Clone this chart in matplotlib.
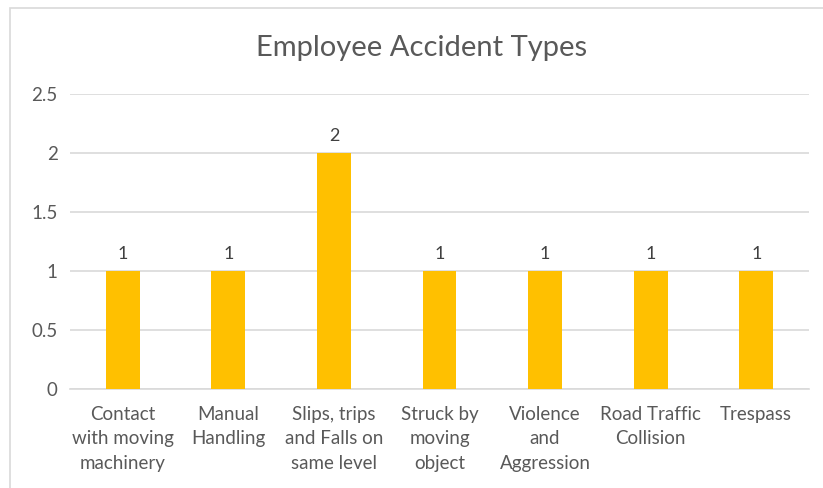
import matplotlib.pyplot as plt
from matplotlib.patches import Rectangle

# Data
categories = [
    "Contact\nwith moving\nmachinery",
    "Manual\nHandling",
    "Slips, trips\nand Falls on\nsame level",
    "Struck by\nmoving\nobject",
    "Violence\nand\nAggression",
    "Road Traffic\nCollision",
    "Trespass",
]
counts = [1, 1, 2, 1, 1, 1, 1]
y_ticks = [0, 0.5, 1, 1.5, 2, 2.5]
y_tick_labels = ["0", "0.5", "1", "1.5", "2", "2.5"]


def main():
    plt.rcParams['font.family'] = ['Lato', 'DejaVu Sans']
    text_color = '#595959'
    grid_color = '#D9D9D9'

    fig = plt.figure(figsize=(8.23, 4.88), dpi=100)
    ax = fig.add_axes([70 / 823, 1 - 389 / 488, 739 / 823, 295 / 488])

    # chart frame (only left and top edges visible in the crop)
    fig.patches.append(Rectangle((10 / 823, -0.1), 1.2, 1 - 8 / 488 + 0.1,
                                 transform=fig.transFigure, fill=False,
                                 edgecolor=grid_color, linewidth=1.2))

    x = range(len(categories))
    bars = ax.bar(x, counts, width=0.32, color='#FFC000', zorder=3)
    for b, v in zip(bars, counts):
        ax.text(b.get_x() + b.get_width() / 2, v + 0.08, str(v),
                ha='center', va='bottom', fontsize=13, color='#404040')

    ax.set_xlim(-0.5, len(categories) - 0.5)
    ax.set_ylim(0, 2.5)
    ax.set_yticks(y_ticks)
    ax.set_yticklabels(y_tick_labels)
    ax.set_xticks(list(x))
    ax.set_xticklabels(categories, linespacing=1.55)
    ax.tick_params(axis='both', length=0, labelsize=13.5, labelcolor=text_color)
    ax.tick_params(axis='y', pad=9)
    ax.tick_params(axis='x', pad=12)
    ax.yaxis.grid(True, color=grid_color, linewidth=1.2, zorder=0)
    for side in ['top', 'right', 'left']:
        ax.spines[side].set_visible(False)
    ax.spines['bottom'].set_color(grid_color)
    ax.spines['bottom'].set_linewidth(1.2)

    fig.text(422 / 823, 1 - 48 / 488, "Employee Accident Types",
             ha='center', va='center', fontsize=21, color=text_color)

    fig.savefig('out.png', dpi=100)


if __name__ == "__main__":
    main()
